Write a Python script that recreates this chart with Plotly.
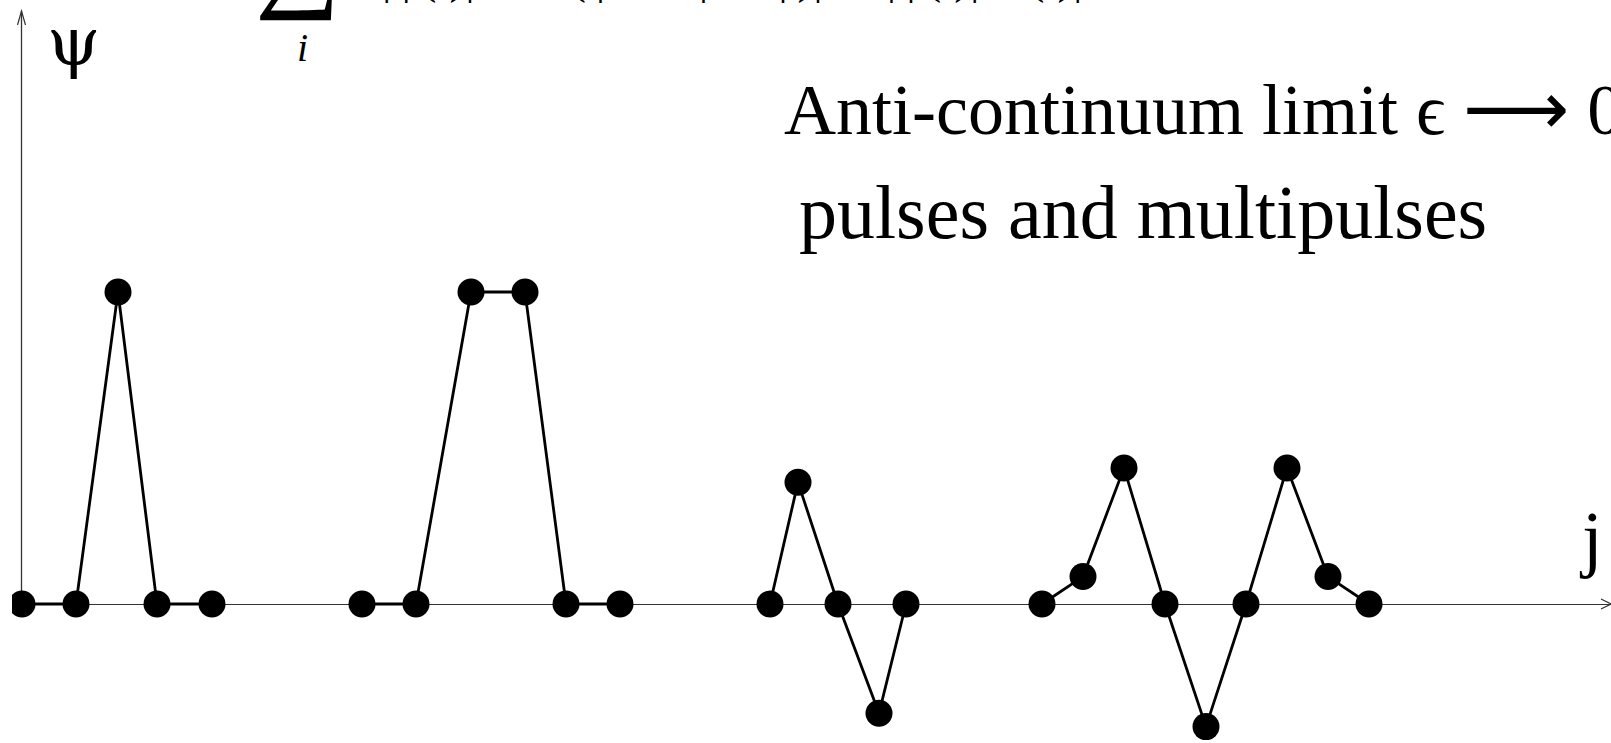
import plotly.graph_objects as go

# Lattice sites (horizontal position along j) and amplitudes psi_j for each pattern
single_j = [22, 76, 118, 157, 212]
single_psi = [0, 0, 1.0, 0, 0]

double_j = [362, 416, 471, 525, 566, 620]
double_psi = [0, 0, 1.0, 1.0, 0, 0]

dipole_j = [770, 798, 838, 879, 906]
dipole_psi = [0, 0.39, 0, -0.35, 0]

multi_j = [1042, 1083, 1124, 1165, 1206, 1246, 1287, 1328, 1369]
multi_psi = [0, 0.088, 0.436, 0, -0.393, 0, 0.436, 0.088, 0]

W, H = 1611, 743
X0 = 12            # left edge of the drawing area
Y_BASE = 604       # pixel row of psi = 0
PX_PER_UNIT = 312  # pixels per unit of psi

y_top = Y_BASE / PX_PER_UNIT
y_bot = -(H - Y_BASE) / PX_PER_UNIT


def yp(p):
    """pixel row -> psi units"""
    return (Y_BASE - p) / PX_PER_UNIT


def pp(p):
    """pixel row -> paper fraction (plot area fills the page height)"""
    return 1 - p / H


SERIF = "Liberation Serif, Times New Roman, serif"

fig = go.Figure()
for xs, ys in [(single_j, single_psi), (double_j, double_psi),
               (dipole_j, dipole_psi), (multi_j, multi_psi)]:
    fig.add_trace(go.Scatter(
        x=xs, y=ys, mode="lines+markers",
        line=dict(color="black", width=2.8),
        marker=dict(color="black", size=27, line=dict(width=0)),
        showlegend=False, hoverinfo="skip",
    ))

# vertical psi axis with open arrowhead
fig.add_shape(type="line", x0=21.5, x1=21.5, y0=0, y1=yp(11),
              line=dict(color="#333", width=1.3), layer="below")
fig.add_shape(type="path", path=f"M 17.5,{yp(25)} L 21.5,{yp(11)} L 25.5,{yp(25)}",
              line=dict(color="#333", width=1.2))
# open arrowhead at the right end of the j axis
fig.add_shape(type="path", path=f"M 1601,{yp(599)} L 1611,{yp(604)} L 1601,{yp(609)}",
              line=dict(color="#333", width=1.2))

ann = []
ann.append(dict(x=73, y=pp(42), text="ψ", xanchor="center", yanchor="middle",
                font=dict(family="DejaVu Serif", size=68, color="black")))
ann.append(dict(x=1591, y=pp(538), text="j", xanchor="center", yanchor="middle",
                font=dict(family=SERIF, size=74, color="black")))
ann.append(dict(x=782, y=pp(108), xanchor="left", yanchor="middle",
                text="Anti-continuum limit ϵ "
                     "<span style=\"font-family:'DejaVu Sans';font-size:74px\">⟶</span> 0",
                font=dict(family=SERIF, size=72, color="black")))
ann.append(dict(x=797, y=pp(212), text="pulses and multipulses", xanchor="left",
                yanchor="middle", font=dict(family=SERIF, size=76, color="black")))
# partially visible energy expression at the top edge
ann.append(dict(x=298, y=pp(-46), text="∑", xanchor="center", yanchor="middle",
                font=dict(family=SERIF, size=120, color="black")))
ann.append(dict(x=302, y=pp(48), text="<i>i</i>", xanchor="center", yanchor="middle",
                font=dict(family=SERIF, size=40, color="black")))
ann.append(dict(x=380, y=pp(-23.5), xanchor="left", yanchor="middle",
                text="|ψ(t)|² − ε (ψ − 2ψ + ψ)|² − |ψ(t)|²   (t)|",
                font=dict(family=SERIF, size=47, color="black")))
for a in ann:
    a.update(xref="x", yref="paper", showarrow=False)

fig.update_layout(
    width=W, height=H,
    margin=dict(l=X0, r=0, t=0, b=0, pad=0),
    paper_bgcolor="white", plot_bgcolor="white",
    annotations=ann,
    xaxis=dict(range=[X0, W], visible=False, showgrid=False, zeroline=False, fixedrange=True),
    yaxis=dict(range=[y_bot, y_top], showgrid=False, zeroline=True, zerolinecolor="#333",
               zerolinewidth=1.3, showticklabels=False, ticks="", showline=False,
               fixedrange=True),
)

fig.write_html("out.html", config={"displayModeBar": False})
